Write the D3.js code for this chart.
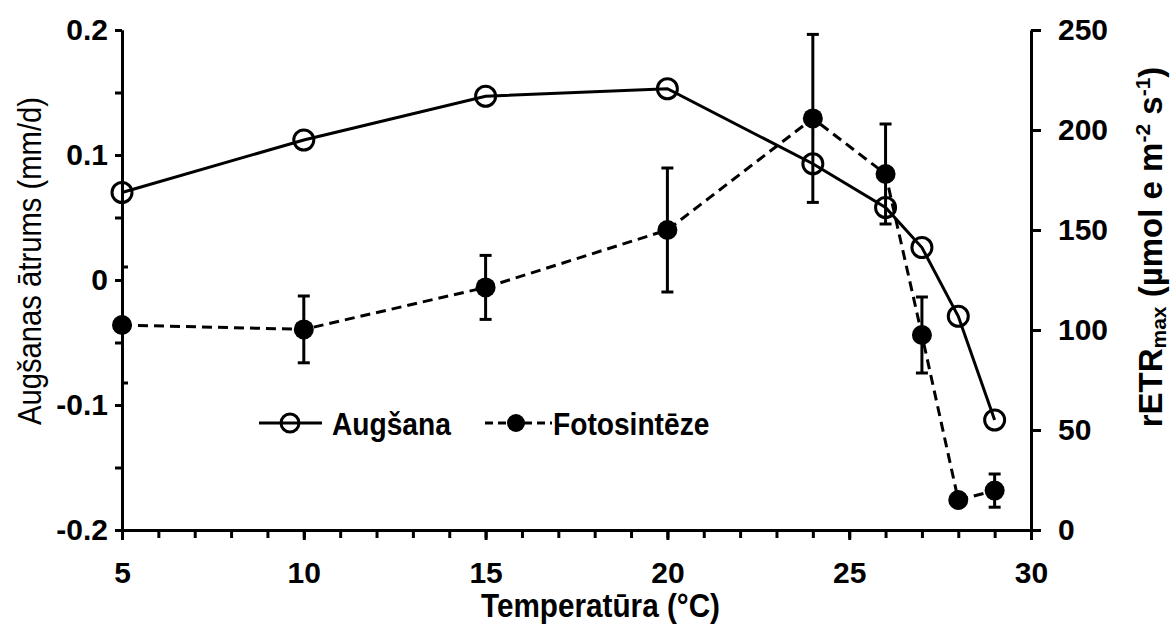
<!DOCTYPE html>
<html>
<head>
<meta charset="utf-8">
<script src="https://cdn.jsdelivr.net/npm/d3@7"></script>
<style>
  body { margin: 0; background: #fff; }
  svg { display: block; font-family: "Liberation Sans", Arial, sans-serif; }
</style>
</head>
<body>
<div id="chart"></div>
<script>
// Temperature points (°C)
const temps = [5, 10, 15, 20, 24, 26, 27, 28, 29];
// Growth rate, left axis (mm/d)
const growth = [0.070, 0.112, 0.147, 0.153, 0.093, 0.058, 0.026, -0.029, -0.112];
// rETRmax, right axis, with error
const retr = [102.5, 100.3, 121.3, 150, 205.8, 178, 97.5, 15, 19.7];
const retrErr = [29, 16.7, 16, 31, 42, 25, 19, 0, 8.3];

const xTicks = [5, 10, 15, 20, 25, 30];
const leftTicks = [-0.2, -0.1, 0, 0.1, 0.2];
const rightTicks = [0, 50, 100, 150, 200, 250];

const width = 1170, height = 628;

const svg = d3.select("#chart").append("svg")
    .attr("width", width)
    .attr("height", height);

const x = d3.scaleLinear().domain([5, 30]).range([122, 1031]);
const yL = d3.scaleLinear().domain([-0.2, 0.2]).range([530, 30]);
const yR = d3.scaleLinear().domain([0, 250]).range([530, 30]);

svg.append("clipPath").attr("id", "plot-clip")
    .append("rect")
    .attr("x", x(5)).attr("y", 0)
    .attr("width", x(30) - x(5)).attr("height", 560);

function styleAxis(g, fontSize) {
    g.select(".domain").attr("stroke", "#000").attr("stroke-width", 3);
    g.selectAll(".tick line").attr("stroke", "#000").attr("stroke-width", 3);
    g.selectAll(".tick text")
        .attr("fill", "#000")
        .style("font-size", fontSize + "px")
        .style("font-weight", "bold");
}

// x axis: minor ticks every degree, then labelled majors
svg.append("g")
    .attr("transform", `translate(0,${yL(-0.2)})`)
    .call(d3.axisBottom(x).tickValues(d3.range(5, 31, 1)).tickSize(8).tickSizeOuter(0).tickFormat(""))
    .call(g => styleAxis(g, 30));

svg.append("g")
    .attr("transform", `translate(0,${yL(-0.2)})`)
    .call(d3.axisBottom(x).tickValues(xTicks).tickSize(10).tickSizeOuter(0).tickPadding(22).tickFormat(d3.format("d")))
    .call(g => styleAxis(g, 30));

// left axis with half-step minor ticks
svg.append("g")
    .attr("transform", `translate(${x(5)},0)`)
    .call(d3.axisLeft(yL).tickValues([-0.15, -0.05, 0.05, 0.15]).tickSize(7).tickSizeOuter(0).tickFormat(""))
    .call(g => styleAxis(g, 30));

svg.append("g")
    .attr("transform", `translate(${x(5)},0)`)
    .call(d3.axisLeft(yL).tickValues(leftTicks).tickSize(7).tickSizeOuter(0).tickPadding(7)
        .tickFormat(d => d === 0 ? "0" : d.toFixed(1)))
    .call(g => styleAxis(g, 30));

// right axis
svg.append("g")
    .attr("transform", `translate(${x(30)},0)`)
    .call(d3.axisRight(yR).tickValues(rightTicks).tickSize(10).tickSizeOuter(0).tickPadding(17))
    .call(g => styleAxis(g, 30));

// error bars (clipped at the left axis like the original)
const errG = svg.append("g").attr("clip-path", "url(#plot-clip)")
    .attr("stroke", "#000").attr("stroke-width", 3);
const capW = 6;
temps.forEach((t, i) => {
    if (!retrErr[i]) return;
    const cx = x(t), top = yR(retr[i] + retrErr[i]), bot = yR(retr[i] - retrErr[i]);
    errG.append("line").attr("x1", cx).attr("x2", cx).attr("y1", top).attr("y2", bot);
    errG.append("line").attr("x1", cx - capW).attr("x2", cx + capW).attr("y1", top).attr("y2", top);
    errG.append("line").attr("x1", cx - capW).attr("x2", cx + capW).attr("y1", bot).attr("y2", bot);
});

// lines
const lineGrowth = d3.line().x((d, i) => x(temps[i])).y(d => yL(d));
const lineRetr = d3.line().x((d, i) => x(temps[i])).y(d => yR(d));

svg.append("path")
    .datum(retr)
    .attr("d", lineRetr)
    .attr("fill", "none")
    .attr("stroke", "#000")
    .attr("stroke-width", 3)
    .attr("stroke-dasharray", "10,6");

svg.append("path")
    .datum(growth)
    .attr("d", lineGrowth)
    .attr("fill", "none")
    .attr("stroke", "#000")
    .attr("stroke-width", 3);

// markers
svg.append("g").selectAll("circle")
    .data(retr)
    .join("circle")
    .attr("cx", (d, i) => x(temps[i]))
    .attr("cy", d => yR(d))
    .attr("r", 10)
    .attr("fill", "#000");

svg.append("g").selectAll("circle")
    .data(growth)
    .join("circle")
    .attr("cx", (d, i) => x(temps[i]))
    .attr("cy", d => yL(d))
    .attr("r", 10)
    .attr("fill", "none")
    .attr("stroke", "#000")
    .attr("stroke-width", 3);

// legend
const legend = svg.append("g").attr("transform", "translate(0,423)");
legend.append("line").attr("x1", 259).attr("x2", 322).attr("y1", 0).attr("y2", 0)
    .attr("stroke", "#000").attr("stroke-width", 3);
legend.append("circle").attr("cx", 290).attr("cy", 0).attr("r", 9)
    .attr("fill", "none").attr("stroke", "#000").attr("stroke-width", 3);
legend.append("text").attr("transform", "translate(332,12) scale(0.88,1)")
    .style("font-size", "32px").style("font-weight", "bold").text("Augšana");

legend.append("line").attr("x1", 485).attr("x2", 552).attr("y1", 0).attr("y2", 0)
    .attr("stroke", "#000").attr("stroke-width", 3).attr("stroke-dasharray", "8,5");
legend.append("circle").attr("cx", 516).attr("cy", 0).attr("r", 9).attr("fill", "#000");
legend.append("text").attr("transform", "translate(553,12) scale(0.88,1)")
    .style("font-size", "32px").style("font-weight", "bold").text("Fotosintēze");

// axis titles
svg.append("text")
    .attr("transform", `translate(${(x(5) + x(30)) / 2 + 24},617) scale(0.9,1)`)
    .attr("text-anchor", "middle")
    .style("font-size", "33px").style("font-weight", "bold")
    .text("Temperatūra (°C)");

svg.append("text")
    .attr("transform", "translate(41,261) rotate(-90) scale(0.86,1)")
    .attr("text-anchor", "middle")
    .style("font-size", "34px")
    .text("Augšanas ātrums (mm/d)");

const rt = svg.append("text")
    .attr("transform", "translate(1162,247) rotate(-90)")
    .attr("text-anchor", "middle")
    .style("font-size", "33px").style("font-weight", "bold");
rt.append("tspan").text("rETR");
rt.append("tspan").attr("dy", 4).style("font-size", "21px").text("max");
rt.append("tspan").attr("dy", -4).text(" (µmol e m");
rt.append("tspan").attr("dy", -12).style("font-size", "21px").text("-2");
rt.append("tspan").attr("dy", 12).text(" s");
rt.append("tspan").attr("dy", -12).style("font-size", "21px").text("-1");
rt.append("tspan").attr("dy", 12).text(")");
</script>
</body>
</html>
